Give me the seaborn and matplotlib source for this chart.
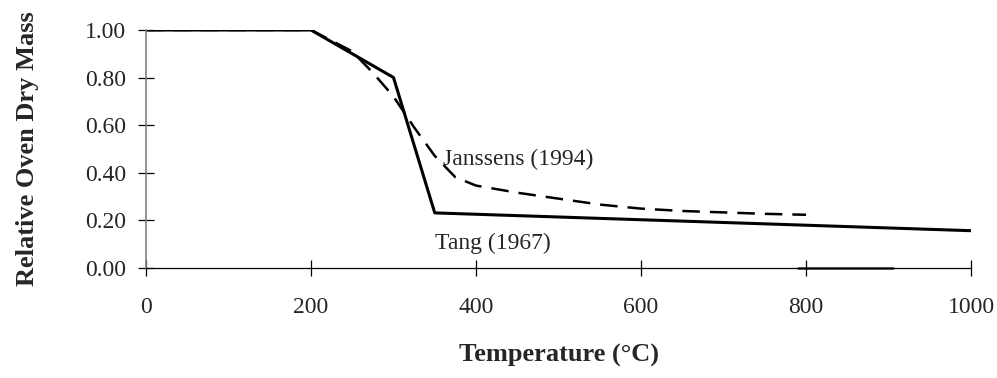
import numpy as np
import pandas as pd
import matplotlib
matplotlib.use("Agg")
import matplotlib.pyplot as plt
import seaborn as sns

# Relative oven-dry mass of wood versus temperature, two literature sources
tang_temp = [0, 200, 300, 350, 1000]
tang_mass = [1.00, 1.00, 0.80, 0.23, 0.155]

janssens_temp = [0, 200, 250, 275, 300, 325, 350, 375, 400, 450, 500, 550, 600, 650, 700, 750, 800]
janssens_mass = [1.00, 1.00, 0.91, 0.82, 0.72, 0.59, 0.47, 0.38, 0.345, 0.315, 0.29, 0.265, 0.248, 0.238, 0.232, 0.226, 0.222]

# faint trace lying on the baseline
trace_temp = [790, 905]
trace_mass = [0.0, 0.0]

x_ticks = [0, 200, 400, 600, 800, 1000]
y_ticks = [0.0, 0.2, 0.4, 0.6, 0.8, 1.0]

sns.set_theme(style="white")
plt.rcParams["font.family"] = ["Liberation Serif", "DejaVu Serif"]

df = pd.concat([
    pd.DataFrame({"temp": tang_temp, "mass": tang_mass, "source": "Tang (1967)"}),
    pd.DataFrame({"temp": janssens_temp, "mass": janssens_mass, "source": "Janssens (1994)"}),
])

fig = plt.figure(figsize=(9.97, 3.78), dpi=100)
ax = fig.add_axes([0.1464, 0.2923, 0.8276, 0.6283])

sns.lineplot(data=df, x="temp", y="mass", hue="source", style="source",
             palette={"Tang (1967)": "black", "Janssens (1994)": "black"},
             dashes={"Tang (1967)": "", "Janssens (1994)": (7, 4)},
             size="source", sizes={"Tang (1967)": 2.2, "Janssens (1994)": 1.8},
             sort=False, legend=False, ax=ax)
sns.lineplot(x=trace_temp, y=trace_mass, color="#222222", linewidth=1.8,
             ax=ax, legend=False, clip_on=False)

ax.set_xlim(0, 1000)
ax.set_ylim(0, 1.0)
ax.set_xticks(x_ticks)
ax.set_yticks(y_ticks)
ax.set_yticklabels([f"{v:.2f}" for v in y_ticks])
ax.set_xticklabels([str(v) for v in x_ticks])

for side in ("top", "right"):
    ax.spines[side].set_visible(False)
ax.spines["left"].set_color("#808080")
ax.spines["left"].set_linewidth(1.2)
ax.spines["bottom"].set_color("black")
ax.spines["bottom"].set_linewidth(0.9)

ax.tick_params(axis="y", direction="inout", length=11, width=0.9, color="black",
               pad=9, labelsize=17)
ax.tick_params(axis="x", direction="inout", length=12, width=0.9, color="black",
               pad=15, labelsize=17)
ax.tick_params(left=True, bottom=True)

ax.set_xlabel("Temperature (°C)", fontsize=19, fontweight="bold", labelpad=19)
ax.set_ylabel("Relative Oven Dry Mass", fontsize=19, fontweight="bold", labelpad=33)

ax.text(360, 0.43, "Janssens (1994)", fontsize=17, ha="left", va="baseline")
ax.text(350, 0.078, "Tang (1967)", fontsize=17, ha="left", va="baseline")

fig.savefig("out.png", dpi=100)
